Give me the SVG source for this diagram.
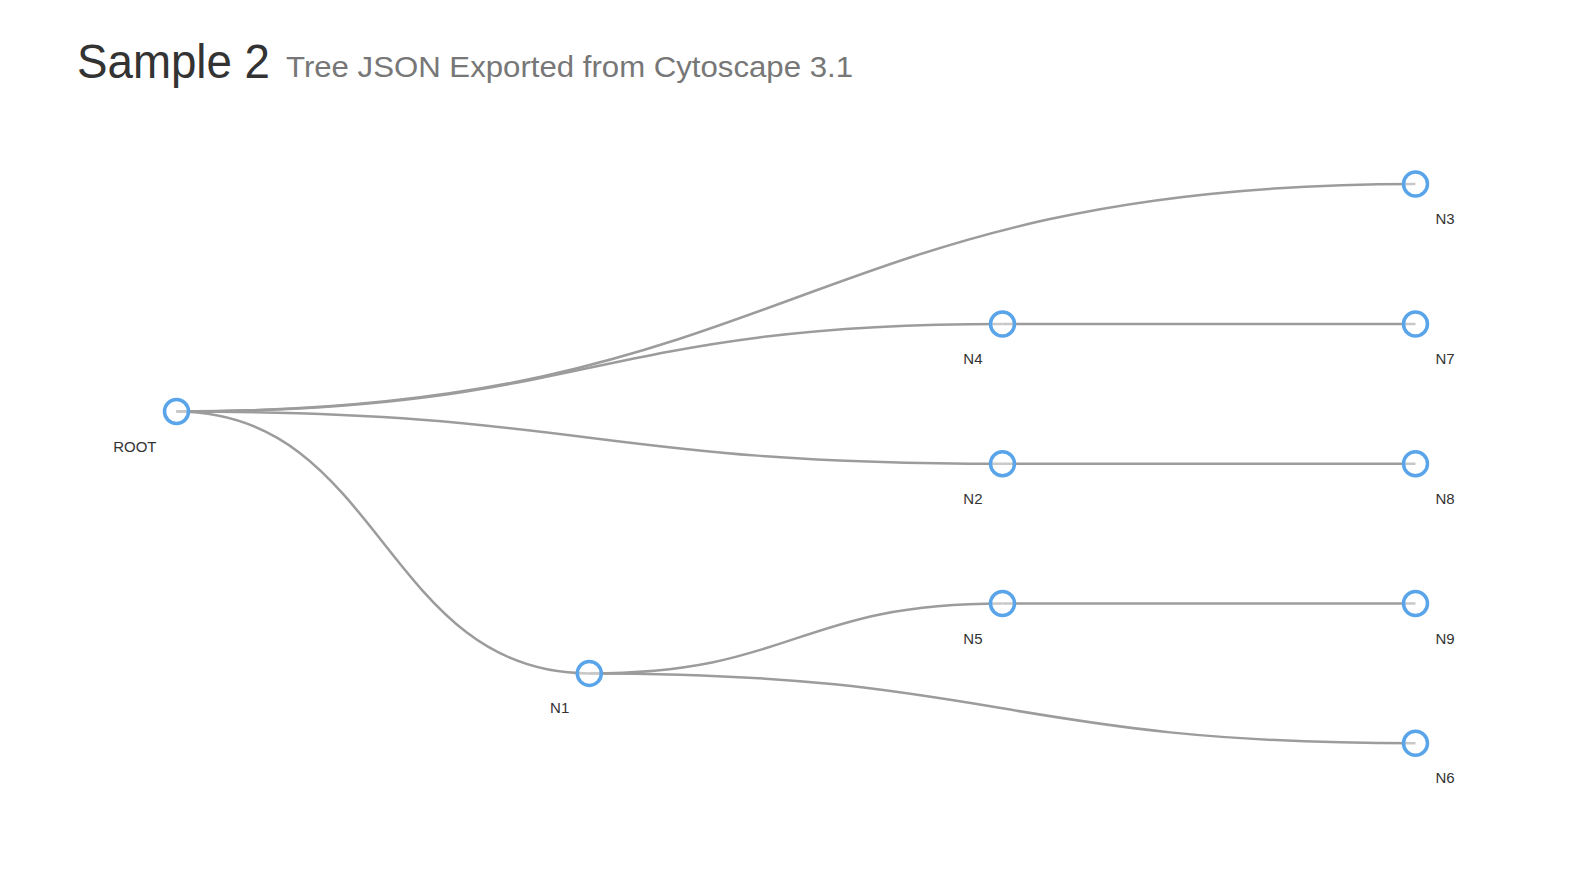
<svg xmlns="http://www.w3.org/2000/svg" width="1574" height="880" viewBox="0 0 1574 880">
  <style>
    .title { font-family: "Liberation Sans", Arial, sans-serif; font-size: 48px; fill: #333; }
    .subtitle { font-family: "Liberation Sans", Arial, sans-serif; font-size: 30px; fill: #777; }
    .link { fill: none; stroke: #9c9c9c; stroke-width: 2.5; }
    .node circle { fill: #fff; fill-opacity: 0.45; stroke: #5aa5e9; stroke-width: 3.5; }
    .node text { font-family: "Liberation Sans", Arial, sans-serif; font-size: 15px; fill: #333; }
    .internal text { text-anchor: end; }
    .leaf text { text-anchor: start; }
  </style>
  <rect width="1574" height="880" fill="#fff"/>
  <text class="title" x="77" y="78" textLength="193" lengthAdjust="spacingAndGlyphs">Sample 2</text>
  <text class="subtitle" x="286" y="77" textLength="567" lengthAdjust="spacingAndGlyphs">Tree JSON Exported from Cytoscape 3.1</text>

  <g id="connectors">
    <path class="link" d="M176.5,411.5 C796,411.5 796,184 1415.5,184"/>
    <path class="link" d="M176.5,411.5 C589.5,411.5 589.5,324 1002.5,324"/>
    <path class="link" d="M176.5,411.5 C589.5,411.5 589.5,463.8 1002.5,463.8"/>
    <path class="link" d="M176.5,411.5 C383,411.5 383,673.4 589.3,673.4"/>
    <path class="link" d="M589.3,673.4 C796,673.4 796,603.5 1002.5,603.5"/>
    <path class="link" d="M589.3,673.4 C1002.4,673.4 1002.4,743.3 1415.5,743.3"/>
    <path class="link" d="M1002.5,324 C1209,324 1209,324 1415.5,324"/>
    <path class="link" d="M1002.5,463.8 C1209,463.8 1209,463.8 1415.5,463.8"/>
    <path class="link" d="M1002.5,603.5 C1209,603.5 1209,603.5 1415.5,603.5"/>
  </g>

  <g id="node-root" class="node internal" transform="translate(176.5,411.5)">
    <circle r="12"/><text x="-20" y="40">ROOT</text>
  </g>
  <g id="node-n1" class="node internal" transform="translate(589.3,673.4)">
    <circle r="12"/><text x="-20" y="40">N1</text>
  </g>
  <g id="node-n4" class="node internal" transform="translate(1002.5,324)">
    <circle r="12"/><text x="-20" y="40">N4</text>
  </g>
  <g id="node-n2" class="node internal" transform="translate(1002.5,463.8)">
    <circle r="12"/><text x="-20" y="40">N2</text>
  </g>
  <g id="node-n5" class="node internal" transform="translate(1002.5,603.5)">
    <circle r="12"/><text x="-20" y="40">N5</text>
  </g>
  <g id="node-n3" class="node leaf" transform="translate(1415.5,184)">
    <circle r="12"/><text x="20" y="40">N3</text>
  </g>
  <g id="node-n7" class="node leaf" transform="translate(1415.5,324)">
    <circle r="12"/><text x="20" y="40">N7</text>
  </g>
  <g id="node-n8" class="node leaf" transform="translate(1415.5,463.8)">
    <circle r="12"/><text x="20" y="40">N8</text>
  </g>
  <g id="node-n9" class="node leaf" transform="translate(1415.5,603.5)">
    <circle r="12"/><text x="20" y="40">N9</text>
  </g>
  <g id="node-n6" class="node leaf" transform="translate(1415.5,743.3)">
    <circle r="12"/><text x="20" y="40">N6</text>
  </g>
</svg>
